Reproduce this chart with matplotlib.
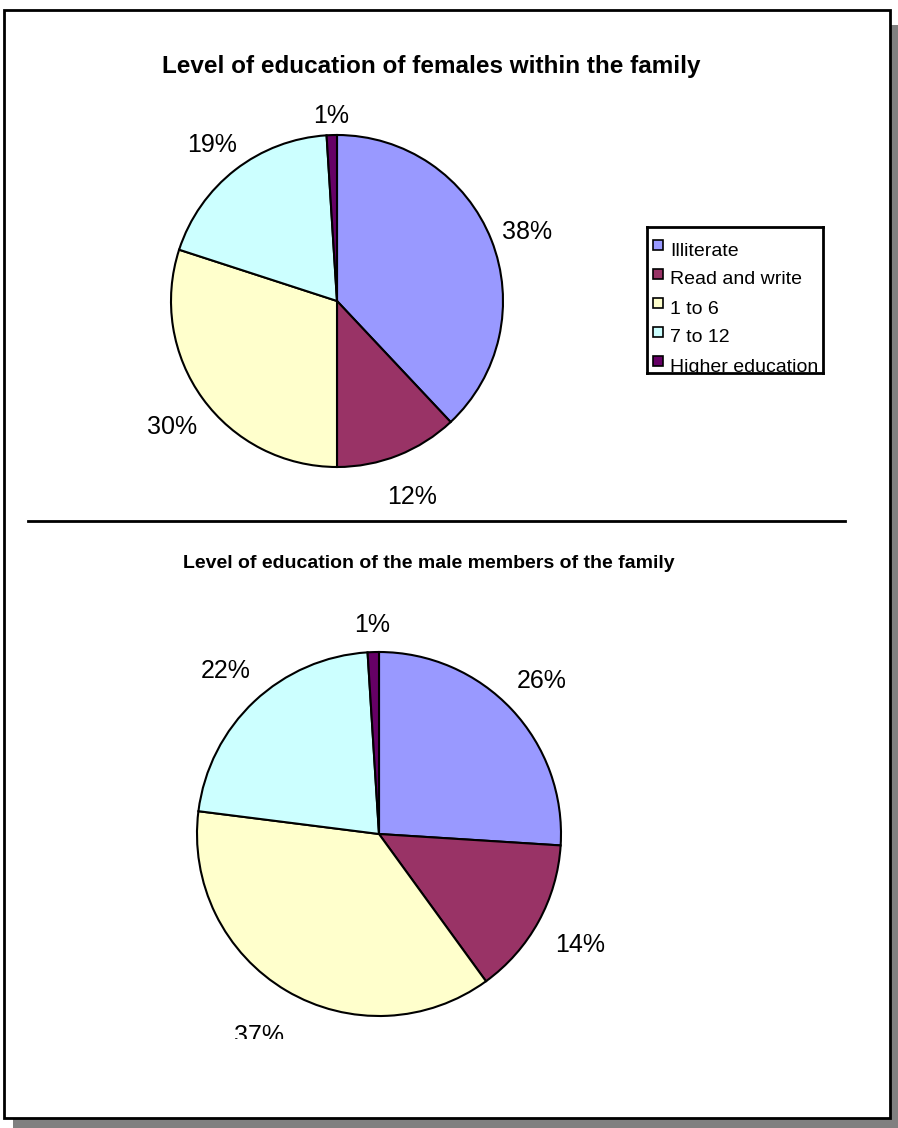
import matplotlib.pyplot as plt
from matplotlib.patches import Rectangle
import numpy as np

plt.rcParams["font.family"] = ["Liberation Sans", "DejaVu Sans"]

categories = ["Illiterate", "Read and write", "1 to 6", "7 to 12", "Higher education"]
colors = ["#9999FF", "#993366", "#FFFFCC", "#CCFFFF", "#660066"]
females = [38, 12, 30, 19, 1]
males = [26, 14, 37, 22, 1]
title_f = "Level of education of females within the family"
title_m = "Level of education of the male members of the family"

W, H = 898, 1128
fig = plt.figure(figsize=(W / 100, H / 100), dpi=100)


def px_axes(x0, y0, x1, y1):
    return fig.add_axes([x0 / W, 1 - y1 / H, (x1 - x0) / W, (y1 - y0) / H])


# background: frame with shadow, separator, titles
bg = px_axes(0, 0, W, H)
bg.set_xlim(0, W)
bg.set_ylim(H, 0)
bg.axis("off")
bg.add_patch(Rectangle((13, 25), W - 13, H - 25, facecolor="#808080", edgecolor="none"))
bg.add_patch(Rectangle((4, 10), 886, 1108, facecolor="white", edgecolor="black", lw=2))
bg.plot([28, 845], [521, 521], color="black", lw=2)
bg.text(431, 66, title_f, ha="center", va="center", fontsize=17.5, fontweight="bold")
bg.text(429, 564, title_m, ha="center", va="center", fontsize=14, fontweight="bold")


def draw_pie(values, box, cx, cy, r, dy=0.0, push=0.0):
    x0, y0, x1, y1 = box
    ax = px_axes(x0, y0, x1, y1)
    wedges, _ = ax.pie(values, colors=colors, startangle=90, counterclock=False,
                       wedgeprops=dict(edgecolor="black", linewidth=1.5))
    ax.set_aspect("auto")
    ax.set_xlim((x0 - cx) / r, (x1 - cx) / r)
    ax.set_ylim((cy - y1) / r, (cy - y0) / r)
    ax.axis("off")
    for w, v in zip(wedges, values):
        ang = np.deg2rad((w.theta1 + w.theta2) / 2)
        s = np.sin(ang)
        d = 1.15 if v < 3 else 1.23 + push * max(0.0, -s)
        ax.text(d * np.cos(ang), d * s - dy, f"{v}%", ha="center", va="center",
                fontsize=18, clip_on=True)
    return ax


draw_pie(females, (110, 90, 620, 518), 337, 301, 166, dy=0.035)
draw_pie(males, (140, 590, 640, 1039), 379, 834, 182, push=0.07)

# legend box
lg = px_axes(647, 227, 823, 373)
lg.set_xlim(0, 176)
lg.set_ylim(146, 0)
lg.set_xticks([])
lg.set_yticks([])
for s in lg.spines.values():
    s.set_linewidth(2)
for i, (name, c) in enumerate(zip(categories, colors)):
    y = 24 + i * 29
    lg.add_patch(Rectangle((6, y - 11), 10, 10, facecolor=c, edgecolor="black", lw=1.2))
    lg.text(23, y, name, ha="left", va="center", fontsize=14, clip_on=True)

fig.savefig("out.png", dpi=100)
